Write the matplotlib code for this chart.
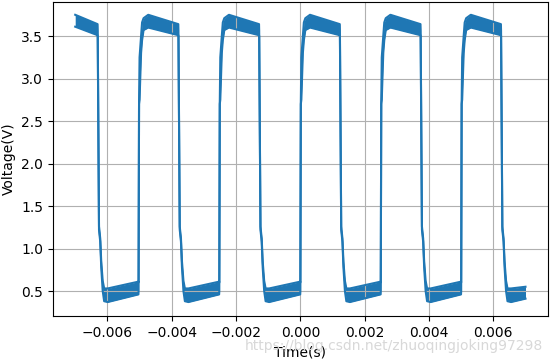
import matplotlib
matplotlib.use("Agg")
import matplotlib.pyplot as plt

# edge times (s)
falls = [-0.00630, -0.00379, -0.00128, 0.00123, 0.00374, 0.00624]
rises = [-0.00503, -0.00252, 0.0, 0.00250, 0.00500]
t_start, t_end = -0.00700, 0.00700

# noise envelope at the ends of the record (V)
start_hi, start_lo = 3.75, 3.61
end_hi, end_lo = 0.55, 0.41

# level just before each edge (V)
high_end_hi, high_end_lo = 3.64, 3.51
low_end_hi, low_end_lo = 0.61, 0.46

# falling edge shape: offset (us), upper / lower envelope (V)
fall_dt = [0, 40, 78, 109, 155, 200, 310]
fall_hi = [3.56, 1.26, 1.12, 0.85, 0.62, 0.53, 0.53]
fall_lo = [3.50, 1.22, 1.08, 0.78, 0.50, 0.38, 0.37]

# rising edge shape: offset (us), upper / lower envelope (V)
rise_dt = [0, 15, 31, 78, 109, 155, 300]
rise_hi = [0.60, 2.72, 3.25, 3.50, 3.66, 3.71, 3.75]
rise_lo = [0.50, 2.70, 2.75, 3.30, 3.45, 3.57, 3.60]


def build_trace():
    t, hi, lo = [t_start], [start_hi], [start_lo]
    edges = sorted([(x, "fall") for x in falls] + [(x, "rise") for x in rises])
    for te, kind in edges:
        if kind == "fall":
            pre = (high_end_hi, high_end_lo)
            shape = zip(fall_dt, fall_hi, fall_lo)
        else:
            pre = (low_end_hi, low_end_lo)
            shape = zip(rise_dt, rise_hi, rise_lo)
        t.append(te - 5e-6)
        hi.append(pre[0])
        lo.append(pre[1])
        for d, a, b in shape:
            t.append(te + d * 1e-6)
            hi.append(a)
            lo.append(b)
    t.append(t_end)
    hi.append(end_hi)
    lo.append(end_lo)
    return t, hi, lo


t, hi, lo = build_trace()

fig = plt.figure(figsize=(5.5, 3.62), dpi=100)
ax = fig.add_axes([0.0958, 0.1271, 0.9006, 0.8682])

ax.fill_between(t, lo, hi, color="C0", lw=0)
ax.plot(t, hi, color="C0", lw=1.5)
ax.plot(t, lo, color="C0", lw=1.5)

ax.set_xlim(-0.0077, 0.0077)
ax.set_ylim(0.206, 3.904)
ax.set_xlabel("Time(s)")
ax.set_ylabel("Voltage(V)")
ax.grid(True)

# csdn watermark
fig.text(0.987, 0.044, "https://blog.csdn.net/zhuoqingjoking97298",
         ha="right", va="center", fontsize=10, color="#d8d8d8", zorder=10)

fig.savefig("out.png", dpi=100)
